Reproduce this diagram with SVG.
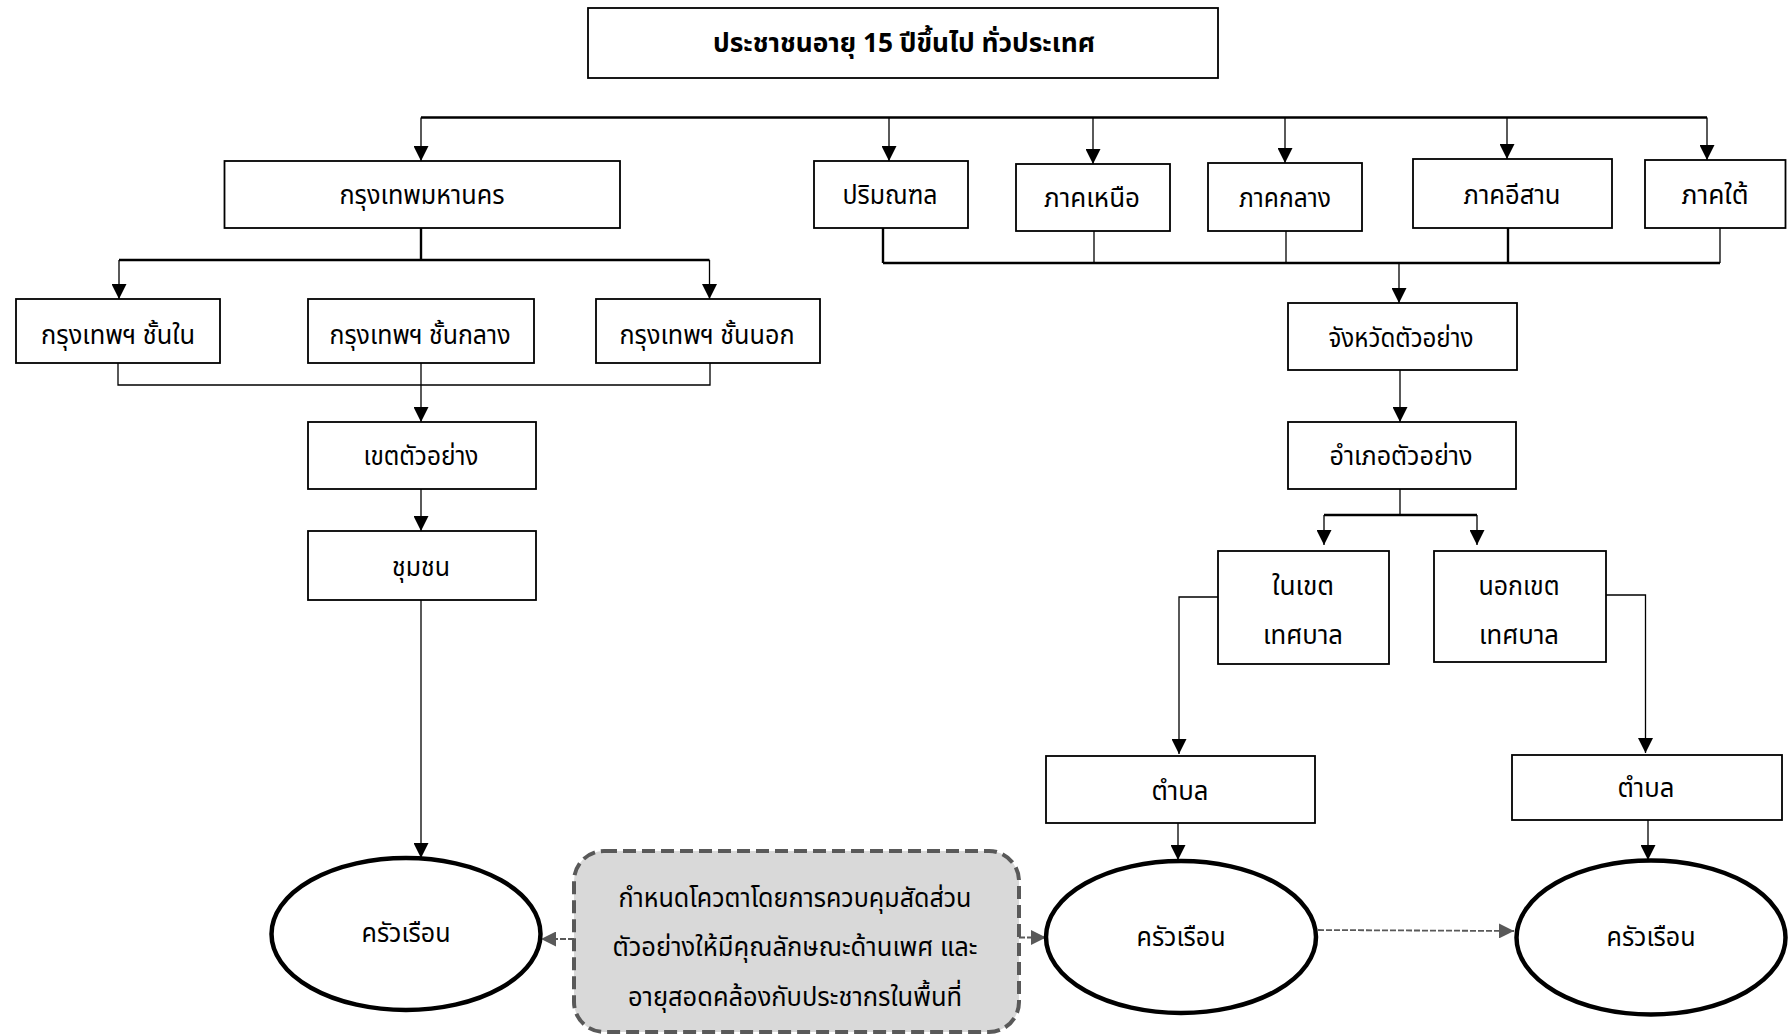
<svg xmlns="http://www.w3.org/2000/svg" width="1789" height="1035" viewBox="0 0 1789 1035">
<defs>
<style>
.box{fill:#fff;stroke:#000;stroke-width:1.8}
.ell{fill:#fff;stroke:#000;stroke-width:4.5}
.t{font-family:"Noto Sans Thai","Noto Sans","DejaVu Sans",sans-serif;font-size:26px;fill:#000;text-anchor:middle;dominant-baseline:central}
.tb{font-weight:bold}
.c{fill:none;stroke:#000;stroke-width:1.3}
.ck{fill:none;stroke:#000;stroke-width:2.4}
.d{fill:none;stroke:#595959;stroke-width:1.8;stroke-dasharray:6 2}
.note{fill:#d9d9d9;stroke:#595959;stroke-width:4;stroke-dasharray:13 6}
</style>
<marker id="a" markerUnits="userSpaceOnUse" markerWidth="15" markerHeight="15" viewBox="0 0 15 15" refX="15" refY="7.5" orient="auto"><path d="M0,0L15,7.5L0,15Z" fill="#000"/></marker>
<marker id="g" markerUnits="userSpaceOnUse" markerWidth="15" markerHeight="15" viewBox="0 0 15 15" refX="15" refY="7.5" orient="auto"><path d="M0,0L15,7.5L0,15Z" fill="#595959"/></marker>
</defs>
<rect width="1789" height="1035" fill="#fff"/>
<g id="connectors">
<path class="ck" d="M421,117.5H1707"/>
<path class="c" d="M421,117.5V161" marker-end="url(#a)"/>
<path class="c" d="M889,117.5V161" marker-end="url(#a)"/>
<path class="c" d="M1093,117.5V164" marker-end="url(#a)"/>
<path class="c" d="M1285,117.5V163" marker-end="url(#a)"/>
<path class="c" d="M1507,117.5V159" marker-end="url(#a)"/>
<path class="c" d="M1707,117.5V160" marker-end="url(#a)"/>
<path class="ck" d="M883,228V263"/>
<path class="c" d="M1094,231V263"/>
<path class="c" d="M1286,231V263"/>
<path class="ck" d="M1508,228V263"/>
<path class="c" d="M1720,228V263"/>
<path class="ck" d="M883,263H1720"/>
<path class="c" d="M1399,263V303" marker-end="url(#a)"/>
<path class="c" d="M1400,370V422" marker-end="url(#a)"/>
<path class="c" d="M1400,489V515"/>
<path class="ck" d="M1324,515H1477"/>
<path class="c" d="M1324,515V545" marker-end="url(#a)"/>
<path class="c" d="M1477,515V545" marker-end="url(#a)"/>
<path class="c" d="M1218,597H1179V754" marker-end="url(#a)"/>
<path class="c" d="M1606,595H1645.5V753" marker-end="url(#a)"/>
<path class="c" d="M1178,823V860" marker-end="url(#a)"/>
<path class="c" d="M1648,820V860" marker-end="url(#a)"/>
<path class="ck" d="M421,228V260"/>
<path class="ck" d="M119,260H709.5"/>
<path class="c" d="M119,260V299" marker-end="url(#a)"/>
<path class="c" d="M709.5,260V299" marker-end="url(#a)"/>
<path class="c" d="M118,363V385H710V363"/>
<path class="c" d="M421,363V422" marker-end="url(#a)"/>
<path class="c" d="M421,489V531" marker-end="url(#a)"/>
<path class="c" d="M421,600V858" marker-end="url(#a)"/>
<path class="d" d="M574,939H541" marker-end="url(#g)"/>
<path class="d" d="M1019,937.5H1046" marker-end="url(#g)"/>
<path class="d" d="M1318,930L1514,931" marker-end="url(#g)"/>
</g>
<g id="n-title"><rect class="box" x="588" y="8" width="630" height="70"/><text class="t tb" x="904" y="44" textLength="382" lengthAdjust="spacingAndGlyphs">ประชาชนอายุ 15 ปีขึ้นไป ทั่วประเทศ</text></g>
<g id="n-bkk"><rect class="box" x="224.5" y="161" width="395.5" height="67"/><text class="t" x="422" y="196" textLength="165" lengthAdjust="spacingAndGlyphs">กรุงเทพมหานคร</text></g>
<g id="n-prim"><rect class="box" x="814" y="161" width="154" height="67"/><text class="t" x="890" y="196" textLength="95" lengthAdjust="spacingAndGlyphs">ปริมณฑล</text></g>
<g id="n-north"><rect class="box" x="1016" y="164" width="154" height="67"/><text class="t" x="1092" y="199" textLength="96" lengthAdjust="spacingAndGlyphs">ภาคเหนือ</text></g>
<g id="n-central"><rect class="box" x="1208" y="163" width="154" height="68"/><text class="t" x="1285" y="199" textLength="92" lengthAdjust="spacingAndGlyphs">ภาคกลาง</text></g>
<g id="n-ne"><rect class="box" x="1413" y="159" width="199" height="69"/><text class="t" x="1512" y="196" textLength="97" lengthAdjust="spacingAndGlyphs">ภาคอีสาน</text></g>
<g id="n-south"><rect class="box" x="1645" y="160" width="140.5" height="68"/><text class="t" x="1715" y="196" textLength="67" lengthAdjust="spacingAndGlyphs">ภาคใต้</text></g>
<g id="n-inner"><rect class="box" x="16" y="299" width="204" height="64"/><text class="t" x="118" y="336" textLength="154" lengthAdjust="spacingAndGlyphs">กรุงเทพฯ ชั้นใน</text></g>
<g id="n-middle"><rect class="box" x="308" y="299" width="226" height="64"/><text class="t" x="420" y="336" textLength="181" lengthAdjust="spacingAndGlyphs">กรุงเทพฯ ชั้นกลาง</text></g>
<g id="n-outer"><rect class="box" x="596" y="299" width="224" height="64"/><text class="t" x="707" y="336" textLength="175" lengthAdjust="spacingAndGlyphs">กรุงเทพฯ ชั้นนอก</text></g>
<g id="n-province"><rect class="box" x="1288" y="303" width="229" height="67"/><text class="t" x="1401" y="339" textLength="145" lengthAdjust="spacingAndGlyphs">จังหวัดตัวอย่าง</text></g>
<g id="n-district-bkk"><rect class="box" x="308" y="422" width="228" height="67"/><text class="t" x="421" y="457" textLength="115" lengthAdjust="spacingAndGlyphs">เขตตัวอย่าง</text></g>
<g id="n-community"><rect class="box" x="308" y="531" width="228" height="69"/><text class="t" x="421" y="568" textLength="58" lengthAdjust="spacingAndGlyphs">ชุมชน</text></g>
<g id="n-amphoe"><rect class="box" x="1288" y="422" width="228" height="67"/><text class="t" x="1401" y="457" textLength="143" lengthAdjust="spacingAndGlyphs">อำเภอตัวอย่าง</text></g>
<g id="n-inmuni"><rect class="box" x="1218" y="551" width="171" height="113"/><text class="t" x="1303" y="587" textLength="62" lengthAdjust="spacingAndGlyphs">ในเขต</text><text class="t" x="1303" y="636" textLength="80" lengthAdjust="spacingAndGlyphs">เทศบาล</text></g>
<g id="n-outmuni"><rect class="box" x="1434" y="551" width="172" height="111"/><text class="t" x="1519" y="587" textLength="81" lengthAdjust="spacingAndGlyphs">นอกเขต</text><text class="t" x="1519" y="636" textLength="80" lengthAdjust="spacingAndGlyphs">เทศบาล</text></g>
<g id="n-tambon1"><rect class="box" x="1046" y="756" width="269" height="67"/><text class="t" x="1180" y="792" textLength="57" lengthAdjust="spacingAndGlyphs">ตำบล</text></g>
<g id="n-tambon2"><rect class="box" x="1512" y="755" width="270" height="65"/><text class="t" x="1646" y="789" textLength="57" lengthAdjust="spacingAndGlyphs">ตำบล</text></g>
<g id="n-hh1"><ellipse class="ell" cx="406" cy="934" rx="134.5" ry="76"/><text class="t" x="406" y="934" textLength="89" lengthAdjust="spacingAndGlyphs">ครัวเรือน</text></g>
<g id="n-hh2"><ellipse class="ell" cx="1181" cy="937" rx="135" ry="76"/><text class="t" x="1181" y="938" textLength="89" lengthAdjust="spacingAndGlyphs">ครัวเรือน</text></g>
<g id="n-hh3"><ellipse class="ell" cx="1651" cy="937.5" rx="134.5" ry="77"/><text class="t" x="1651" y="938" textLength="89" lengthAdjust="spacingAndGlyphs">ครัวเรือน</text></g>
<g id="n-quota"><rect class="note" x="574" y="851" width="445" height="181" rx="30"/><text class="t" x="795" y="899" textLength="353" lengthAdjust="spacingAndGlyphs">กำหนดโควตาโดยการควบคุมสัดส่วน</text><text class="t" x="795" y="948" textLength="365" lengthAdjust="spacingAndGlyphs">ตัวอย่างให้มีคุณลักษณะด้านเพศ และ</text><text class="t" x="795" y="998" textLength="334" lengthAdjust="spacingAndGlyphs">อายุสอดคล้องกับประชากรในพื้นที่</text></g>
</svg>
